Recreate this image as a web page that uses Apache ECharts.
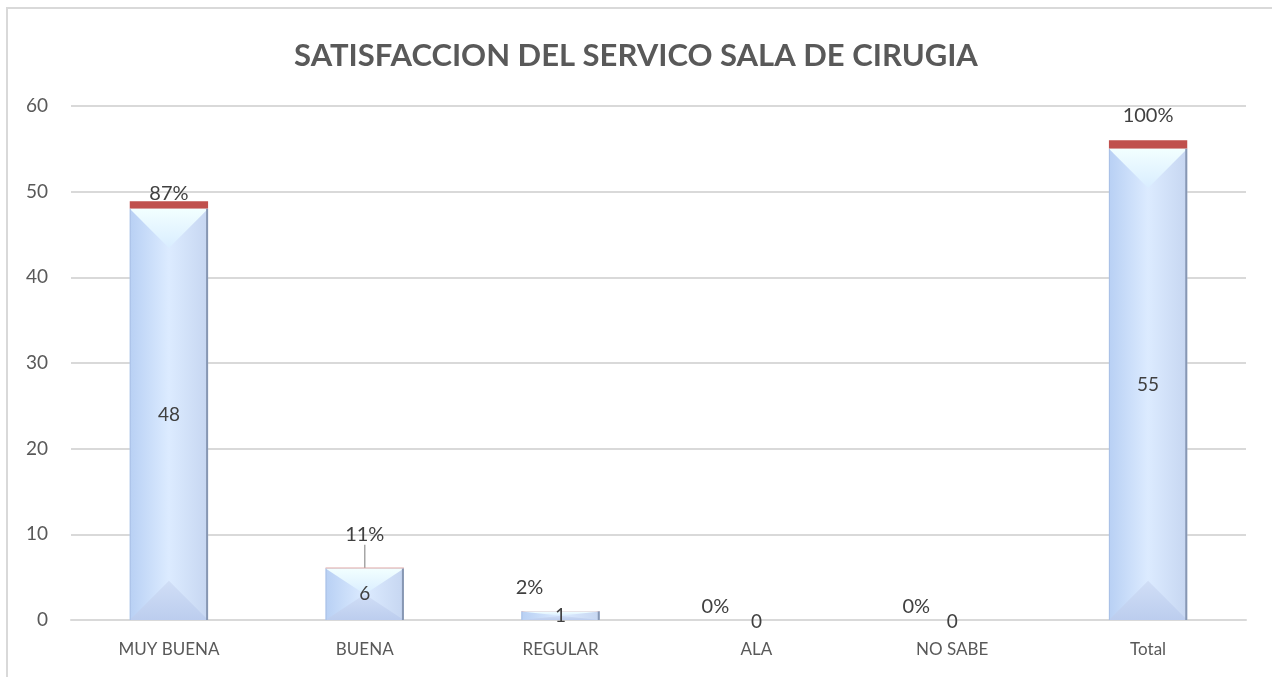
<!DOCTYPE html>
<html>
<head>
<meta charset="utf-8">
<script src="https://cdn.jsdelivr.net/npm/echarts@6/dist/echarts.min.js"></script>
<style>
    html, body { margin: 0; padding: 0; background: #fff; overflow: hidden; width: 1272px; height: 677px; }
    .frame {
        position: absolute; left: 6px; top: 7px; width: 1300px; height: 720px;
        border: 2px solid #d9d9d9; box-sizing: border-box;
    }
    #chart { position: absolute; left: 0; top: 0; width: 1272px; height: 677px; }
</style>
</head>
<body>
<div class="frame"></div>
<div id="chart"></div>
<script>
// datos
const categories = ['MUY BUENA', 'BUENA', 'REGULAR', 'ALA', 'NO SABE', 'Total']
const counts = [48, 6, 1, 0, 0, 55]
const percents = [0.87, 0.11, 0.02, 0, 0, 1]
const yTicks = [0, 10, 20, 30, 40, 50, 60]

// posicion manual de las etiquetas de porcentaje (como en el original)
const pctLabelShift = [[0, 2], [0, -23], [-31, -14], [-41, -3], [-36, -3], [0, -15]]

const textColor = '#404040'
const axisColor = '#595959'
const fontFamily = 'Lato, "Open Sans", sans-serif'

const myChart = echarts.init(document.getElementById('chart'))

// bisel de las barras (triangulos claros arriba, oscuros abajo)
function renderBevel(params, api) {
    let idx = api.value(0)
    let val = api.value(1)
    let top = api.coord([idx, val])
    let base = api.coord([idx, 0])
    let w = api.size([1, 0])[0] * 0.4
    let x0 = top[0] - w / 2
    let x1 = top[0] + w / 2
    let h = base[1] - top[1]
    let t = Math.min(w / 2, h / 2)
    let children = []
    if (h > 0.5) {
        children.push({
            type: 'polygon',
            shape: { points: [[x0, top[1]], [x1, top[1]], [top[0], top[1] + t]] },
            style: {
                fill: new echarts.graphic.LinearGradient(0, 0, 0, 1, [
                    { offset: 0, color: '#f2ffff' },
                    { offset: 1, color: '#d9edff' }
                ])
            }
        })
        children.push({
            type: 'polygon',
            shape: { points: [[x0, base[1]], [x1, base[1]], [top[0], base[1] - t]] },
            style: {
                fill: new echarts.graphic.LinearGradient(0, 0, 0, 1, [
                    { offset: 0, color: '#d0def6' },
                    { offset: 1, color: '#bccdee' }
                ])
            }
        })
        children.push({
            type: 'line',
            shape: { x1: x1 - 1, y1: top[1], x2: x1 - 1, y2: base[1] },
            style: { stroke: '#8797b3', lineWidth: 2 }
        })
        children.push({
            type: 'line',
            shape: { x1: x0 + 0.5, y1: top[1], x2: x0 + 0.5, y2: base[1] },
            style: { stroke: '#a9c0e6', lineWidth: 1 }
        })
    }
    children.push({
        type: 'text',
        z2: 10,
        style: {
            text: String(val),
            x: top[0],
            y: val > 0 ? (top[1] + base[1]) / 2 : base[1] + 2,
            align: 'center',
            verticalAlign: 'middle',
            fill: textColor,
            font: '19px ' + fontFamily
        }
    })
    return { type: 'group', children: children }
}

let option = {
    title: {
        text: 'SATISFACCION DEL SERVICO SALA DE CIRUGIA',
        left: 'center',
        top: 35,
        textStyle: {
            color: '#595959',
            fontSize: 31,
            fontWeight: 'bold',
            fontFamily: fontFamily
        }
    },
    grid: {
        left: 71,
        right: 26,
        top: 106,
        bottom: 57,
        containLabel: false
    },
    xAxis: {
        type: 'category',
        data: categories,
        axisLine: { lineStyle: { color: '#d9d9d9', width: 2 } },
        axisTick: { show: false },
        axisLabel: {
            color: axisColor,
            fontSize: 17,
            fontFamily: fontFamily,
            margin: 21
        }
    },
    yAxis: {
        type: 'value',
        min: yTicks[0],
        max: yTicks[yTicks.length - 1],
        interval: 10,
        axisLine: { show: false },
        axisTick: { show: false },
        splitLine: { lineStyle: { color: '#d9d9d9', width: 2 } },
        axisLabel: {
            color: axisColor,
            fontSize: 19,
            fontFamily: fontFamily,
            margin: 23
        }
    },
    series: [
        {
            name: 'Cantidad',
            type: 'bar',
            stack: 'total',
            barWidth: '40%',
            data: counts,
            itemStyle: {
                color: new echarts.graphic.LinearGradient(0, 0, 1, 0, [
                    { offset: 0, color: '#b8d0f4' },
                    { offset: 0.5, color: '#dcebff' },
                    { offset: 1, color: '#c6d6f1' }
                ])
            },
            label: { show: false }
        },
        {
            name: 'Porcentaje',
            type: 'bar',
            stack: 'total',
            barWidth: '40%',
            data: percents.map((p, i) => ({
                value: p,
                labelLine: { show: i === 1, lineStyle: { color: '#a6a6a6', width: 1.5 } }
            })),
            itemStyle: { color: '#c0504d' },
            label: {
                show: true,
                position: 'top',
                distance: 0,
                color: textColor,
                fontSize: 20,
                fontFamily: fontFamily,
                formatter: p => Math.round(p.value * 100) + '%'
            },
            labelLayout: params => {
                let s = pctLabelShift[params.dataIndex]
                return { dx: s[0], dy: s[1] }
            }
        },
        {
            name: 'Bisel',
            type: 'custom',
            z: 3,
            renderItem: renderBevel,
            data: counts.map((c, i) => [i, c]),
            silent: true
        }
    ]
}

myChart.setOption(option)

window.addEventListener('resize', () => {
    myChart.resize()
})
</script>
</body>
</html>
